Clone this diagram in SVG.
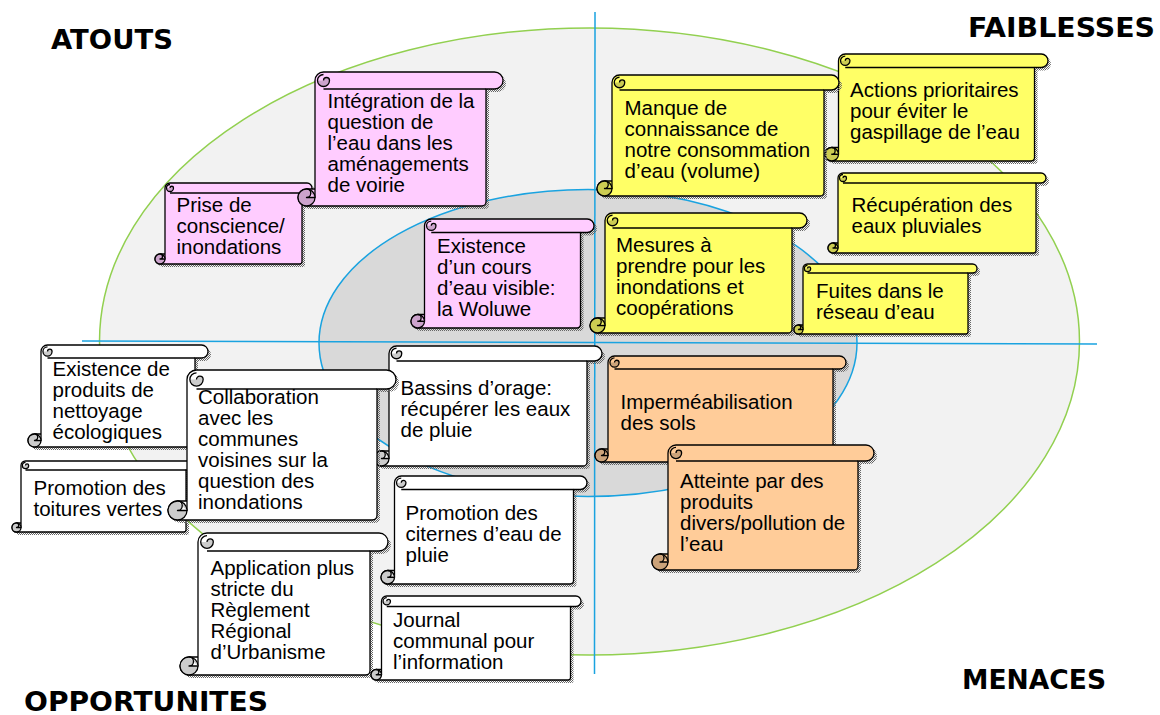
<svg xmlns="http://www.w3.org/2000/svg" xmlns:xlink="http://www.w3.org/1999/xlink" width="1160" height="715" viewBox="0 0 1160 715">
<style>
.o{stroke:#000;stroke-width:1.3;stroke-linejoin:round}
.ln{fill:none;stroke:#000;stroke-width:1.3;stroke-linejoin:round}
.sh{fill:url(#dots)}
.t{font-family:"Liberation Sans",Arial,sans-serif;font-size:20.5px;fill:#000}
.ttl{font-family:"DejaVu Sans",Verdana,sans-serif;font-size:26px;font-weight:bold;fill:#000}
.pk .b{fill:#ffccff}.pk .d{fill:#cca3cc}
.yl .b{fill:#ffff66}.yl .d{fill:#cccc52}
.or .b{fill:#ffcc99}.or .d{fill:#cca37a}
.wh .b{fill:#ffffff}.wh .d{fill:#cccccc}
.axis{stroke:#1aa3e0;stroke-width:1.5;fill:none}
</style>
<defs>
<pattern id="dots" width="2" height="2" patternUnits="userSpaceOnUse"><rect width="1" height="1" fill="#666"/><rect x="1" y="1" width="1" height="1" fill="#666"/></pattern>
<path id="s1" d="M315,197.5 L315,80.5 A8.5,8.5 0 0 1 323.5,72 L494.5,72 A8.5,8.5 0 0 1 494.5,89 L486,89 L486,201.75 A4.25,4.25 0 0 1 481.75,206 L306.5,206 A8.5,8.5 0 0 1 306.5,189 L315,189 Z"/>
<path id="s2" d="M165,259 L165,188 A5,5 0 0 1 170,183 L307,183 A5,5 0 0 1 307,193 L302,193 L302,261.5 A2.5,2.5 0 0 1 299.5,264 L160,264 A5,5 0 0 1 160,254 L165,254 Z"/>
<path id="s3" d="M424.5,321.25 L424.5,225.75 A6.75,6.75 0 0 1 431.25,219 L587.25,219 A6.75,6.75 0 0 1 587.25,232.5 L580.5,232.5 L580.5,324.6 A3.4,3.4 0 0 1 577.1,328 L417.75,328 A6.75,6.75 0 0 1 417.75,314.5 L424.5,314.5 Z"/>
<path id="s4" d="M612,188.5 L612,82.5 A7.5,7.5 0 0 1 619.5,75 L831.5,75 A7.5,7.5 0 0 1 831.5,90 L824,90 L824,192.25 A3.75,3.75 0 0 1 820.25,196 L604.5,196 A7.5,7.5 0 0 1 604.5,181 L612,181 Z"/>
<path id="s5" d="M838.5,154.25 L838.5,60.75 A6.75,6.75 0 0 1 845.25,54 L1041.25,54 A6.75,6.75 0 0 1 1041.25,67.5 L1034.5,67.5 L1034.5,157.6 A3.4,3.4 0 0 1 1031.1,161 L831.75,161 A6.75,6.75 0 0 1 831.75,147.5 L838.5,147.5 Z"/>
<path id="s6" d="M838,248 L838,178 A5,5 0 0 1 843,173 L1041,173 A5,5 0 0 1 1041,183 L1036,183 L1036,250.5 A2.5,2.5 0 0 1 1033.5,253 L833,253 A5,5 0 0 1 833,243 L838,243 Z"/>
<path id="s7" d="M605,325.5 L605,220.5 A7.5,7.5 0 0 1 612.5,213 L799.5,213 A7.5,7.5 0 0 1 799.5,228 L792,228 L792,329.25 A3.75,3.75 0 0 1 788.25,333 L597.5,333 A7.5,7.5 0 0 1 597.5,318 L605,318 Z"/>
<path id="s8" d="M803,329.5 L803,268.5 A4.5,4.5 0 0 1 807.5,264 L972.5,264 A4.5,4.5 0 0 1 972.5,273 L968,273 L968,331.75 A2.25,2.25 0 0 1 965.75,334 L798.5,334 A4.5,4.5 0 0 1 798.5,325 L803,325 Z"/>
<path id="s9" d="M608,455.5 L608,362.5 A6.5,6.5 0 0 1 614.5,356 L839.5,356 A6.5,6.5 0 0 1 839.5,369 L833,369 L833,458.75 A3.25,3.25 0 0 1 829.75,462 L601.5,462 A6.5,6.5 0 0 1 601.5,449 L608,449 Z"/>
<path id="s10" d="M668,562 L668,453 A8,8 0 0 1 676,445 L866,445 A8,8 0 0 1 866,461 L858,461 L858,566 A4,4 0 0 1 854,570 L660,570 A8,8 0 0 1 660,554 L668,554 Z"/>
<path id="s11" d="M41,440.5 L41,351.5 A6.5,6.5 0 0 1 47.5,345 L201.5,345 A6.5,6.5 0 0 1 201.5,358 L195,358 L195,443.75 A3.25,3.25 0 0 1 191.75,447 L34.5,447 A6.5,6.5 0 0 1 34.5,434 L41,434 Z"/>
<path id="s12" d="M21,527.5 L21,465.5 A4.5,4.5 0 0 1 25.5,461 L190.5,461 A4.5,4.5 0 0 1 190.5,470 L186,470 L186,529.75 A2.25,2.25 0 0 1 183.75,532 L16.5,532 A4.5,4.5 0 0 1 16.5,523 L21,523 Z"/>
<path id="s13" d="M187,510.5 L187,379.5 A9.5,9.5 0 0 1 196.5,370 L386.5,370 A9.5,9.5 0 0 1 386.5,389 L377,389 L377,515.25 A4.75,4.75 0 0 1 372.25,520 L177.5,520 A9.5,9.5 0 0 1 177.5,501 L187,501 Z"/>
<path id="s14" d="M389,458.5 L389,353.5 A7.5,7.5 0 0 1 396.5,346 L594.5,346 A7.5,7.5 0 0 1 594.5,361 L587,361 L587,462.25 A3.75,3.75 0 0 1 583.25,466 L381.5,466 A7.5,7.5 0 0 1 381.5,451 L389,451 Z"/>
<path id="s15" d="M394.5,577.25 L394.5,482.75 A6.75,6.75 0 0 1 401.25,476 L580.25,476 A6.75,6.75 0 0 1 580.25,489.5 L573.5,489.5 L573.5,580.6 A3.4,3.4 0 0 1 570.1,584 L387.75,584 A6.75,6.75 0 0 1 387.75,570.5 L394.5,570.5 Z"/>
<path id="s16" d="M198,666 L198,542 A9,9 0 0 1 207,533 L379,533 A9,9 0 0 1 379,551 L370,551 L370,670.5 A4.5,4.5 0 0 1 365.5,675 L189,675 A9,9 0 0 1 189,657 L198,657 Z"/>
<path id="s17" d="M381.5,674.75 L381.5,601.25 A5.25,5.25 0 0 1 386.75,596 L575.75,596 A5.25,5.25 0 0 1 575.75,606.5 L570.5,606.5 L570.5,677.4 A2.6,2.6 0 0 1 567.9,680 L376.25,680 A5.25,5.25 0 0 1 376.25,669.5 L381.5,669.5 Z"/>
</defs>

<g id="background">
<ellipse cx="589.5" cy="341.5" rx="490" ry="313.5" fill="#f2f2f2" stroke="#92d050" stroke-width="1.5"/>
<ellipse cx="588" cy="343" rx="269" ry="153.5" fill="#d9d9d9" stroke="#1aa3e0" stroke-width="1.5"/>
</g>

<g id="connectors">
<line class="axis" x1="595" y1="12" x2="594.5" y2="674"/>
<line class="axis" x1="82" y1="341" x2="1097" y2="344"/>
</g>

<g id="titles">
<text class="ttl" x="51" y="49" textLength="122" lengthAdjust="spacingAndGlyphs">ATOUTS</text>
<text class="ttl" x="968" y="37" textLength="187" lengthAdjust="spacingAndGlyphs">FAIBLESSES</text>
<text class="ttl" x="962" y="689" textLength="144" lengthAdjust="spacingAndGlyphs">MENACES</text>
<text class="ttl" x="24" y="711" textLength="244" lengthAdjust="spacingAndGlyphs">OPPORTUNITES</text>
</g>

<g id="n2" class="pk">
<use href="#s2" xlink:href="#s2" class="sh" transform="translate(3,3)"/>
<use href="#s2" xlink:href="#s2" class="b o"/>
<path class="ln" d="M170,193 L302,193"/>
<path class="d" d="M170,188 A1.75,1.75 0 0 1 173.5,188 A3.5,3.5 0 0 1 166.5,188 Z"/>
<path class="ln" d="M170,188 A1.75,1.75 0 0 1 173.5,188 A3.5,3.5 0 0 1 166.5,188 A3.5,3.5 0 0 1 170,184.5"/>
<circle class="d o" cx="160" cy="259" r="5"/>
<path class="b o" d="M160,254 A2.5,2.5 0 0 1 160,259 L165,259"/>
<text class="t"><tspan x="176.5" y="212">Prise de</tspan><tspan x="176.5" y="233">conscience/</tspan><tspan x="176.5" y="254">inondations</tspan></text>
</g>

<g id="n1" class="pk">
<use href="#s1" xlink:href="#s1" class="sh" transform="translate(3,3)"/>
<use href="#s1" xlink:href="#s1" class="b o"/>
<path class="ln" d="M323.5,89 L486,89"/>
<path class="d" d="M323.5,80.5 A3,3 0 0 1 329.5,80.5 A6,6 0 0 1 317.5,80.5 Z"/>
<path class="ln" d="M323.5,80.5 A3,3 0 0 1 329.5,80.5 A6,6 0 0 1 317.5,80.5 A6,6 0 0 1 323.5,74.5"/>
<circle class="d o" cx="306.5" cy="197.5" r="8.5"/>
<path class="b o" d="M306.5,189 A4.25,4.25 0 0 1 306.5,197.5 L315,197.5"/>
<text class="t"><tspan x="327.5" y="107.5">Intégration de la</tspan><tspan x="327.5" y="128.5">question de</tspan><tspan x="327.5" y="149.5">l’eau dans les</tspan><tspan x="327.5" y="170.5">aménagements</tspan><tspan x="327.5" y="191.5">de voirie</tspan></text>
</g>

<g id="n3" class="pk">
<use href="#s3" xlink:href="#s3" class="sh" transform="translate(3,3)"/>
<use href="#s3" xlink:href="#s3" class="b o"/>
<path class="ln" d="M431.25,232.5 L580.5,232.5"/>
<path class="d" d="M431.25,225.75 A2.35,2.35 0 0 1 435.95,225.75 A4.7,4.7 0 0 1 426.55,225.75 Z"/>
<path class="ln" d="M431.25,225.75 A2.35,2.35 0 0 1 435.95,225.75 A4.7,4.7 0 0 1 426.55,225.75 A4.7,4.7 0 0 1 431.25,221.05"/>
<circle class="d o" cx="417.75" cy="321.25" r="6.75"/>
<path class="b o" d="M417.75,314.5 A3.375,3.375 0 0 1 417.75,321.25 L424.5,321.25"/>
<text class="t"><tspan x="437" y="252.5">Existence</tspan><tspan x="437" y="273.5">d’un cours</tspan><tspan x="437" y="294.5">d’eau visible:</tspan><tspan x="437" y="315.5">la Woluwe</tspan></text>
</g>

<g id="n5" class="yl">
<use href="#s5" xlink:href="#s5" class="sh" transform="translate(3,3)"/>
<use href="#s5" xlink:href="#s5" class="b o"/>
<path class="ln" d="M845.25,67.5 L1034.5,67.5"/>
<path class="d" d="M845.25,60.75 A2.35,2.35 0 0 1 849.95,60.75 A4.7,4.7 0 0 1 840.55,60.75 Z"/>
<path class="ln" d="M845.25,60.75 A2.35,2.35 0 0 1 849.95,60.75 A4.7,4.7 0 0 1 840.55,60.75 A4.7,4.7 0 0 1 845.25,56.05"/>
<circle class="d o" cx="831.75" cy="154.25" r="6.75"/>
<path class="b o" d="M831.75,147.5 A3.375,3.375 0 0 1 831.75,154.25 L838.5,154.25"/>
<text class="t"><tspan x="850" y="97">Actions prioritaires</tspan><tspan x="850" y="118">pour éviter le</tspan><tspan x="850" y="139">gaspillage de l’eau</tspan></text>
</g>

<g id="n4" class="yl">
<use href="#s4" xlink:href="#s4" class="sh" transform="translate(3,3)"/>
<use href="#s4" xlink:href="#s4" class="b o"/>
<path class="ln" d="M619.5,90 L824,90"/>
<path class="d" d="M619.5,82.5 A2.625,2.625 0 0 1 624.75,82.5 A5.25,5.25 0 0 1 614.25,82.5 Z"/>
<path class="ln" d="M619.5,82.5 A2.625,2.625 0 0 1 624.75,82.5 A5.25,5.25 0 0 1 614.25,82.5 A5.25,5.25 0 0 1 619.5,77.25"/>
<circle class="d o" cx="604.5" cy="188.5" r="7.5"/>
<path class="b o" d="M604.5,181 A3.75,3.75 0 0 1 604.5,188.5 L612,188.5"/>
<text class="t"><tspan x="624.5" y="115">Manque de</tspan><tspan x="624.5" y="136">connaissance de</tspan><tspan x="624.5" y="157">notre consommation</tspan><tspan x="624.5" y="178">d’eau (volume)</tspan></text>
</g>

<g id="n6" class="yl">
<use href="#s6" xlink:href="#s6" class="sh" transform="translate(3,3)"/>
<use href="#s6" xlink:href="#s6" class="b o"/>
<path class="ln" d="M843,183 L1036,183"/>
<path class="d" d="M843,178 A1.75,1.75 0 0 1 846.5,178 A3.5,3.5 0 0 1 839.5,178 Z"/>
<path class="ln" d="M843,178 A1.75,1.75 0 0 1 846.5,178 A3.5,3.5 0 0 1 839.5,178 A3.5,3.5 0 0 1 843,174.5"/>
<circle class="d o" cx="833" cy="248" r="5"/>
<path class="b o" d="M833,243 A2.5,2.5 0 0 1 833,248 L838,248"/>
<text class="t"><tspan x="851.5" y="212">Récupération des</tspan><tspan x="851.5" y="233">eaux pluviales</tspan></text>
</g>

<g id="n7" class="yl">
<use href="#s7" xlink:href="#s7" class="sh" transform="translate(3,3)"/>
<use href="#s7" xlink:href="#s7" class="b o"/>
<path class="ln" d="M612.5,228 L792,228"/>
<path class="d" d="M612.5,220.5 A2.625,2.625 0 0 1 617.75,220.5 A5.25,5.25 0 0 1 607.25,220.5 Z"/>
<path class="ln" d="M612.5,220.5 A2.625,2.625 0 0 1 617.75,220.5 A5.25,5.25 0 0 1 607.25,220.5 A5.25,5.25 0 0 1 612.5,215.25"/>
<circle class="d o" cx="597.5" cy="325.5" r="7.5"/>
<path class="b o" d="M597.5,318 A3.75,3.75 0 0 1 597.5,325.5 L605,325.5"/>
<text class="t"><tspan x="616" y="251.5">Mesures à</tspan><tspan x="616" y="272.5">prendre pour les</tspan><tspan x="616" y="293.5">inondations et</tspan><tspan x="616" y="314.5">coopérations</tspan></text>
</g>

<g id="n8" class="yl">
<use href="#s8" xlink:href="#s8" class="sh" transform="translate(3,3)"/>
<use href="#s8" xlink:href="#s8" class="b o"/>
<path class="ln" d="M807.5,273 L968,273"/>
<path class="d" d="M807.5,268.5 A1.575,1.575 0 0 1 810.65,268.5 A3.15,3.15 0 0 1 804.35,268.5 Z"/>
<path class="ln" d="M807.5,268.5 A1.575,1.575 0 0 1 810.65,268.5 A3.15,3.15 0 0 1 804.35,268.5 A3.15,3.15 0 0 1 807.5,265.35"/>
<circle class="d o" cx="798.5" cy="329.5" r="4.5"/>
<path class="b o" d="M798.5,325 A2.25,2.25 0 0 1 798.5,329.5 L803,329.5"/>
<text class="t"><tspan x="816" y="297.5">Fuites dans le</tspan><tspan x="816" y="318.5">réseau d’eau</tspan></text>
</g>

<g id="n9" class="or">
<use href="#s9" xlink:href="#s9" class="sh" transform="translate(3,3)"/>
<use href="#s9" xlink:href="#s9" class="b o"/>
<path class="ln" d="M614.5,369 L833,369"/>
<path class="d" d="M614.5,362.5 A2.275,2.275 0 0 1 619.05,362.5 A4.55,4.55 0 0 1 609.95,362.5 Z"/>
<path class="ln" d="M614.5,362.5 A2.275,2.275 0 0 1 619.05,362.5 A4.55,4.55 0 0 1 609.95,362.5 A4.55,4.55 0 0 1 614.5,357.95"/>
<circle class="d o" cx="601.5" cy="455.5" r="6.5"/>
<path class="b o" d="M601.5,449 A3.25,3.25 0 0 1 601.5,455.5 L608,455.5"/>
<text class="t"><tspan x="620.5" y="409">Imperméabilisation</tspan><tspan x="620.5" y="430">des sols</tspan></text>
</g>

<g id="n10" class="or">
<use href="#s10" xlink:href="#s10" class="sh" transform="translate(3,3)"/>
<use href="#s10" xlink:href="#s10" class="b o"/>
<path class="ln" d="M676,461 L858,461"/>
<path class="d" d="M676,453 A2.8,2.8 0 0 1 681.6,453 A5.6,5.6 0 0 1 670.4,453 Z"/>
<path class="ln" d="M676,453 A2.8,2.8 0 0 1 681.6,453 A5.6,5.6 0 0 1 670.4,453 A5.6,5.6 0 0 1 676,447.4"/>
<circle class="d o" cx="660" cy="562" r="8"/>
<path class="b o" d="M660,554 A4,4 0 0 1 660,562 L668,562"/>
<text class="t"><tspan x="680" y="487.5">Atteinte par des</tspan><tspan x="680" y="508.5">produits</tspan><tspan x="680" y="529.5">divers/pollution de</tspan><tspan x="680" y="550.5">l’eau</tspan></text>
</g>

<g id="n11" class="wh">
<use href="#s11" xlink:href="#s11" class="sh" transform="translate(3,3)"/>
<use href="#s11" xlink:href="#s11" class="b o"/>
<path class="ln" d="M47.5,358 L195,358"/>
<path class="d" d="M47.5,351.5 A2.275,2.275 0 0 1 52.05,351.5 A4.55,4.55 0 0 1 42.95,351.5 Z"/>
<path class="ln" d="M47.5,351.5 A2.275,2.275 0 0 1 52.05,351.5 A4.55,4.55 0 0 1 42.95,351.5 A4.55,4.55 0 0 1 47.5,346.95"/>
<circle class="d o" cx="34.5" cy="440.5" r="6.5"/>
<path class="b o" d="M34.5,434 A3.25,3.25 0 0 1 34.5,440.5 L41,440.5"/>
<text class="t"><tspan x="52.5" y="375.5">Existence de</tspan><tspan x="52.5" y="396.5">produits de</tspan><tspan x="52.5" y="417.5">nettoyage</tspan><tspan x="52.5" y="438.5">écologiques</tspan></text>
</g>

<g id="n12" class="wh">
<use href="#s12" xlink:href="#s12" class="sh" transform="translate(3,3)"/>
<use href="#s12" xlink:href="#s12" class="b o"/>
<path class="ln" d="M25.5,470 L186,470"/>
<path class="d" d="M25.5,465.5 A1.575,1.575 0 0 1 28.65,465.5 A3.15,3.15 0 0 1 22.35,465.5 Z"/>
<path class="ln" d="M25.5,465.5 A1.575,1.575 0 0 1 28.65,465.5 A3.15,3.15 0 0 1 22.35,465.5 A3.15,3.15 0 0 1 25.5,462.35"/>
<circle class="d o" cx="16.5" cy="527.5" r="4.5"/>
<path class="b o" d="M16.5,523 A2.25,2.25 0 0 1 16.5,527.5 L21,527.5"/>
<text class="t"><tspan x="33.5" y="495">Promotion des</tspan><tspan x="33.5" y="516">toitures vertes</tspan></text>
</g>

<g id="n14" class="wh">
<use href="#s14" xlink:href="#s14" class="sh" transform="translate(3,3)"/>
<use href="#s14" xlink:href="#s14" class="b o"/>
<path class="ln" d="M396.5,361 L587,361"/>
<path class="d" d="M396.5,353.5 A2.625,2.625 0 0 1 401.75,353.5 A5.25,5.25 0 0 1 391.25,353.5 Z"/>
<path class="ln" d="M396.5,353.5 A2.625,2.625 0 0 1 401.75,353.5 A5.25,5.25 0 0 1 391.25,353.5 A5.25,5.25 0 0 1 396.5,348.25"/>
<circle class="d o" cx="381.5" cy="458.5" r="7.5"/>
<path class="b o" d="M381.5,451 A3.75,3.75 0 0 1 381.5,458.5 L389,458.5"/>
<text class="t"><tspan x="400.5" y="395">Bassins d’orage:</tspan><tspan x="400.5" y="416">récupérer les eaux</tspan><tspan x="400.5" y="437">de pluie</tspan></text>
</g>

<g id="n13" class="wh">
<use href="#s13" xlink:href="#s13" class="sh" transform="translate(3,3)"/>
<use href="#s13" xlink:href="#s13" class="b o"/>
<path class="ln" d="M196.5,389 L377,389"/>
<path class="d" d="M196.5,379.5 A3.325,3.325 0 0 1 203.15,379.5 A6.65,6.65 0 0 1 189.85,379.5 Z"/>
<path class="ln" d="M196.5,379.5 A3.325,3.325 0 0 1 203.15,379.5 A6.65,6.65 0 0 1 189.85,379.5 A6.65,6.65 0 0 1 196.5,372.85"/>
<circle class="d o" cx="177.5" cy="510.5" r="9.5"/>
<path class="b o" d="M177.5,501 A4.75,4.75 0 0 1 177.5,510.5 L187,510.5"/>
<text class="t"><tspan x="198" y="404">Collaboration</tspan><tspan x="198" y="425">avec les</tspan><tspan x="198" y="446">communes</tspan><tspan x="198" y="467">voisines sur la</tspan><tspan x="198" y="488">question des</tspan><tspan x="198" y="509">inondations</tspan></text>
</g>

<g id="n15" class="wh">
<use href="#s15" xlink:href="#s15" class="sh" transform="translate(3,3)"/>
<use href="#s15" xlink:href="#s15" class="b o"/>
<path class="ln" d="M401.25,489.5 L573.5,489.5"/>
<path class="d" d="M401.25,482.75 A2.35,2.35 0 0 1 405.95,482.75 A4.7,4.7 0 0 1 396.55,482.75 Z"/>
<path class="ln" d="M401.25,482.75 A2.35,2.35 0 0 1 405.95,482.75 A4.7,4.7 0 0 1 396.55,482.75 A4.7,4.7 0 0 1 401.25,478.05"/>
<circle class="d o" cx="387.75" cy="577.25" r="6.75"/>
<path class="b o" d="M387.75,570.5 A3.375,3.375 0 0 1 387.75,577.25 L394.5,577.25"/>
<text class="t"><tspan x="405.5" y="520">Promotion des</tspan><tspan x="405.5" y="541">citernes d’eau de</tspan><tspan x="405.5" y="562">pluie</tspan></text>
</g>

<g id="n16" class="wh">
<use href="#s16" xlink:href="#s16" class="sh" transform="translate(3,3)"/>
<use href="#s16" xlink:href="#s16" class="b o"/>
<path class="ln" d="M207,551 L370,551"/>
<path class="d" d="M207,542 A3.15,3.15 0 0 1 213.3,542 A6.3,6.3 0 0 1 200.7,542 Z"/>
<path class="ln" d="M207,542 A3.15,3.15 0 0 1 213.3,542 A6.3,6.3 0 0 1 200.7,542 A6.3,6.3 0 0 1 207,535.7"/>
<circle class="d o" cx="189" cy="666" r="9"/>
<path class="b o" d="M189,657 A4.5,4.5 0 0 1 189,666 L198,666"/>
<text class="t"><tspan x="210.5" y="575">Application plus</tspan><tspan x="210.5" y="596">stricte du</tspan><tspan x="210.5" y="617">Règlement</tspan><tspan x="210.5" y="638">Régional</tspan><tspan x="210.5" y="659">d’Urbanisme</tspan></text>
</g>

<g id="n17" class="wh">
<use href="#s17" xlink:href="#s17" class="sh" transform="translate(3,3)"/>
<use href="#s17" xlink:href="#s17" class="b o"/>
<path class="ln" d="M386.75,606.5 L570.5,606.5"/>
<path class="d" d="M386.75,601.25 A1.85,1.85 0 0 1 390.45,601.25 A3.7,3.7 0 0 1 383.05,601.25 Z"/>
<path class="ln" d="M386.75,601.25 A1.85,1.85 0 0 1 390.45,601.25 A3.7,3.7 0 0 1 383.05,601.25 A3.7,3.7 0 0 1 386.75,597.55"/>
<circle class="d o" cx="376.25" cy="674.75" r="5.25"/>
<path class="b o" d="M376.25,669.5 A2.625,2.625 0 0 1 376.25,674.75 L381.5,674.75"/>
<text class="t"><tspan x="393" y="627">Journal</tspan><tspan x="393" y="648">communal pour</tspan><tspan x="393" y="669">l’information</tspan></text>
</g>
</svg>
